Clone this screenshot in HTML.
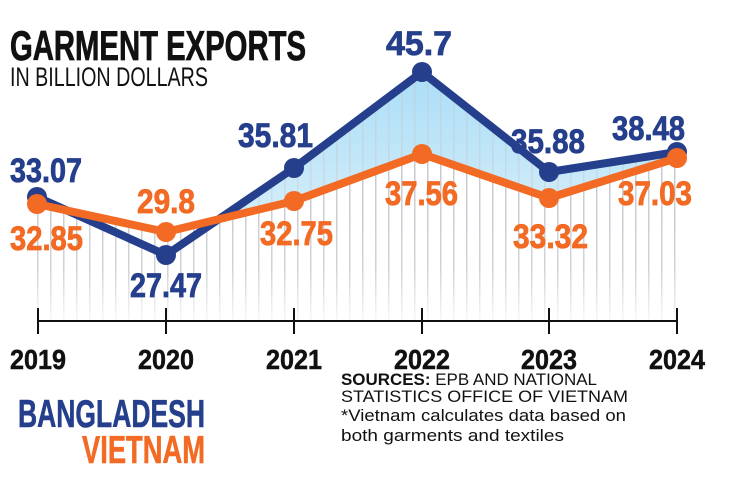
<!DOCTYPE html>
<html><head><meta charset="utf-8"><style>
html,body{margin:0;padding:0;background:#fff;}
svg{display:block}
</style></head><body>
<svg width="730" height="489" viewBox="0 0 730 489" xmlns="http://www.w3.org/2000/svg" font-family="'Liberation Sans Narrow','Liberation Sans',sans-serif">
<defs>
<linearGradient id="gb" x1="0" y1="0" x2="0" y2="1">
<stop offset="0" stop-color="#8fd3f4"/><stop offset="1" stop-color="#e3f3fb"/>
</linearGradient>
<pattern id="st" width="13" height="400" patternUnits="userSpaceOnUse" x="37">
<rect x="0" y="0" width="1.5" height="400" fill="#c5c8ce"/>
</pattern>
<linearGradient id="fade" x1="0" y1="0" x2="0" y2="1">
<stop offset="0" stop-color="#fff" stop-opacity="0"/><stop offset="0.7" stop-color="#fff" stop-opacity="0.2"/><stop offset="1" stop-color="#fff" stop-opacity="0.9"/>
</linearGradient>
</defs>
<polygon points="37,197 166,255 294,168 422,72 549,172 677,152 677,320 37,320" fill="url(#gb)" opacity="0.75"/>
<polygon points="37,204 166,232 294,201 422,154 549,198 677,158 677,320 37,320" fill="#fff"/>
<polygon points="37,204 166,232 294,201 422,154 549,198 677,158 677,320 37,320" fill="url(#st)"/>
<polygon points="37,197 166,255 294,168 422,72 549,172 677,152 677,320 37,320" fill="url(#st)" opacity="0.5"/>
<rect x="30" y="150" width="660" height="172" fill="url(#fade)"/>
<line x1="37" y1="321" x2="677" y2="321" stroke="#111" stroke-width="2"/>
<g stroke="#111" stroke-width="2">
<line x1="38" y1="308" x2="38" y2="334"/><line x1="166" y1="308" x2="166" y2="334"/><line x1="294" y1="308" x2="294" y2="334"/>
<line x1="422" y1="308" x2="422" y2="334"/><line x1="549" y1="308" x2="549" y2="334"/><line x1="677" y1="308" x2="677" y2="334"/>
</g>
<polyline points="37,197 166,255 294,168 422,72 549,172 677,152" fill="none" stroke="#253f8c" stroke-width="8" stroke-linejoin="round"/>
<g fill="#253f8c"><circle cx="37" cy="197" r="10"/><circle cx="166" cy="255" r="10"/><circle cx="294" cy="168" r="10"/><circle cx="422" cy="72" r="10"/><circle cx="549" cy="172" r="10"/><circle cx="677" cy="152" r="10"/></g>
<polyline points="37,204 166,232 294,201 422,154 549,198 677,158" fill="none" stroke="#f26a23" stroke-width="8" stroke-linejoin="round"/>
<g fill="#f26a23"><circle cx="37" cy="204" r="10"/><circle cx="166" cy="232" r="10"/><circle cx="294" cy="201" r="10"/><circle cx="422" cy="154" r="10"/><circle cx="549" cy="198" r="10"/><circle cx="677" cy="158" r="10"/></g>
<text x="10" y="60" font-size="42" font-weight="bold" fill="#111" stroke="#111" stroke-width="0.8" textLength="296" lengthAdjust="spacingAndGlyphs">GARMENT EXPORTS</text>
<text x="10" y="86" font-size="27" fill="#111" textLength="198" lengthAdjust="spacingAndGlyphs">IN BILLION DOLLARS</text>
<g font-size="34" font-weight="bold" fill="#253f8c" stroke="#253f8c" stroke-width="0.8">
<text x="10" y="182" textLength="72" lengthAdjust="spacingAndGlyphs">33.07</text>
<text x="130" y="297" textLength="72" lengthAdjust="spacingAndGlyphs">27.47</text>
<text x="238" y="147" textLength="75" lengthAdjust="spacingAndGlyphs">35.81</text>
<text x="386" y="55" textLength="66" lengthAdjust="spacingAndGlyphs">45.7</text>
<text x="511" y="153" textLength="74" lengthAdjust="spacingAndGlyphs">35.88</text>
<text x="612" y="140" textLength="73" lengthAdjust="spacingAndGlyphs">38.48</text>
</g>
<g font-size="34" font-weight="bold" fill="#f26a23" stroke="#f26a23" stroke-width="0.8">
<text x="10" y="250" textLength="73" lengthAdjust="spacingAndGlyphs">32.85</text>
<text x="137" y="213" textLength="58" lengthAdjust="spacingAndGlyphs">29.8</text>
<text x="260" y="245" textLength="73" lengthAdjust="spacingAndGlyphs">32.75</text>
<text x="385" y="205" textLength="73" lengthAdjust="spacingAndGlyphs">37.56</text>
<text x="513" y="248" textLength="75" lengthAdjust="spacingAndGlyphs">33.32</text>
<text x="618" y="205" textLength="74" lengthAdjust="spacingAndGlyphs">37.03</text>
</g>
<g font-size="28" font-weight="bold" fill="#111" stroke="#111" stroke-width="0.5">
<text x="10" y="369" textLength="56" lengthAdjust="spacingAndGlyphs">2019</text>
<text x="138" y="369" textLength="56" lengthAdjust="spacingAndGlyphs">2020</text>
<text x="266" y="369" textLength="56" lengthAdjust="spacingAndGlyphs">2021</text>
<text x="394" y="369" textLength="56" lengthAdjust="spacingAndGlyphs">2022</text>
<text x="521" y="369" textLength="56" lengthAdjust="spacingAndGlyphs">2023</text>
<text x="649" y="369" textLength="56" lengthAdjust="spacingAndGlyphs">2024</text>
</g>
<text x="18" y="427" font-size="39" font-weight="bold" fill="#253f8c" stroke="#253f8c" stroke-width="0.6" textLength="187" lengthAdjust="spacingAndGlyphs">BANGLADESH</text>
<text x="82" y="463" font-size="39" font-weight="bold" fill="#f26a23" stroke="#f26a23" stroke-width="0.6" textLength="123" lengthAdjust="spacingAndGlyphs">VIETNAM</text>
<g font-family="'Liberation Sans',sans-serif" font-size="17" fill="#111">
<text x="341" y="385" textLength="256" lengthAdjust="spacingAndGlyphs"><tspan font-weight="bold">SOURCES:</tspan> EPB AND NATIONAL</text>
<text x="341" y="402" textLength="287" lengthAdjust="spacingAndGlyphs">STATISTICS OFFICE OF VIETNAM</text>
<text x="341" y="421" textLength="285" lengthAdjust="spacingAndGlyphs">*Vietnam calculates data based on</text>
<text x="341" y="441" textLength="223" lengthAdjust="spacingAndGlyphs">both garments and textiles</text>
</g>
</svg>
</body></html>
